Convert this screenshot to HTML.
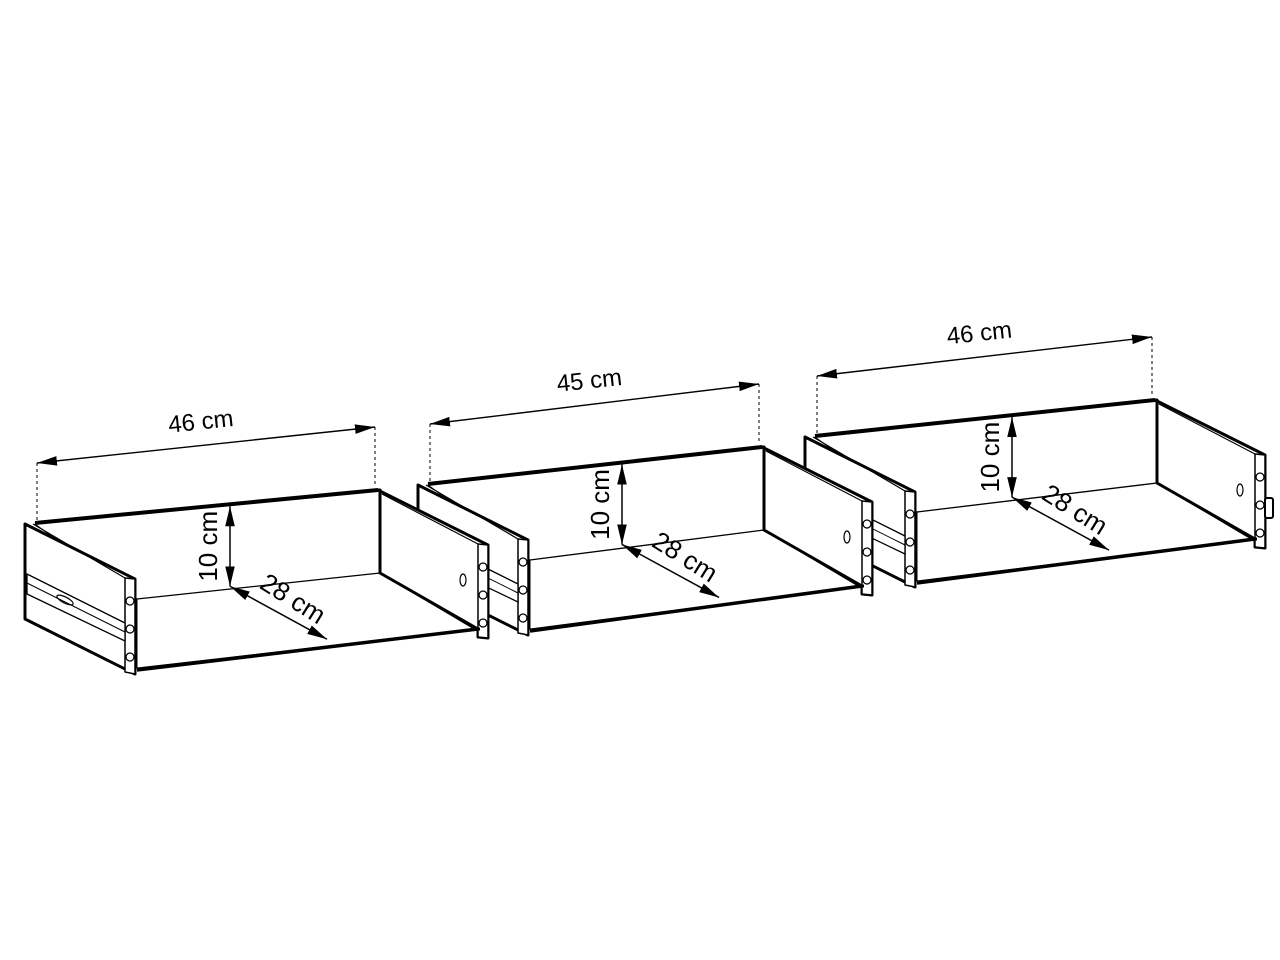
<!DOCTYPE html>
<html><head><meta charset="utf-8"><style>html,body{margin:0;padding:0;background:#fff}svg{display:block}</style></head>
<body>
<svg id="s" width="1280" height="960" viewBox="0 0 1280 960" xmlns="http://www.w3.org/2000/svg" font-family="Liberation Sans, sans-serif">
<defs>
<marker id="ab" viewBox="0 0 10 10" refX="10" refY="5" markerWidth="20" markerHeight="12" orient="auto-start-reverse" markerUnits="userSpaceOnUse" preserveAspectRatio="none">
<path d="M0,1 L10,5 L0,9 z" fill="#000"/></marker>
</defs>
<g id="g"></g>
</svg>
<script>
var g=document.getElementById('g');var out='';
function pt(a){return a[0]+','+a[1];}
function add(a,b){return [a[0]+b[0],a[1]+b[1]];}
function poly(ps,sw,fill){out+='<polygon points="'+ps.map(pt).join(' ')+'" fill="'+(fill||'#fff')+'" stroke="#000" stroke-width="'+sw+'" stroke-linejoin="round"/>';}
function line(a,b,sw,extra){out+='<line x1="'+a[0]+'" y1="'+a[1]+'" x2="'+b[0]+'" y2="'+b[1]+'" stroke="#000" stroke-width="'+sw+'" '+(extra||'')+'/>';}
function circ(c){out+='<circle cx="'+c[0]+'" cy="'+c[1]+'" r="4" fill="#fff" stroke="#000" stroke-width="1.3"/>';}
function text(x,y,s,rot,fs){out+='<text x="'+x+'" y="'+y+'" font-size="'+(fs||24)+'" text-anchor="middle" dominant-baseline="middle" transform="rotate('+rot+' '+x+' '+y+')">'+s+'</text>';}
var d=[110,55],h=95;
function side(P){
 var B=add(P,d);
 poly([P,B,add(B,[0,h]),add(P,[0,h])],3);
 line(add(P,[8,0]),add(B,[-10,-1]),1.2);
 poly([add(B,[-10,-1]),B,add(B,[0,h]),add(B,[-10,h-2])],1.5);
 [22,50,78].forEach(function(t){circ(add(B,[-5,t]));});
 poly([add(P,[2,50]),add(B,[-10,44]),add(B,[-10,62]),add(P,[2,70])],1.3);
 line(add(P,[2,59]),add(B,[-10,53]),1);
 out+='<ellipse cx="'+(P[0]+40)+'" cy="'+(P[1]+76)+'" rx="9" ry="3" fill="none" stroke="#000" stroke-width="1.2" transform="rotate(27 '+(P[0]+40)+' '+(P[1]+76)+')"/>';
}
function drawer(P,w,dimLabel,arrowX){
 var Q=add(P,w),B=add(P,d),QB=add(Q,d);
 var fl=add(B,[2,20]), fr=add(Q,[2,83]);
 poly([add(P,[10,0]),Q,add(Q,[2,0]),fr,add(QB,[-10,84]),add(B,[2,89]),fl],1);
 line(add(P,[10,-1]),Q,4);
 line(fl,fr,1.3);
 line(add(Q,[2,0]),fr,1.3);
 line(add(B,[2,91]),add(QB,[-10,84]),3.5);
 // right panel
 poly([Q,QB,add(QB,[0,h-2]),add(QB,[-10,h-3]),add(QB,[-10,84]),fr,add(Q,[2,0])],3);
 line(fr,add(QB,[-12,85]),1.3);
 line(add(Q,[4,4]),add(QB,[-10,-1]),1.2);
 poly([add(QB,[-10,-1]),QB,add(QB,[0,h-2]),add(QB,[-10,h-3])],1.5);
 [22,50,78].forEach(function(t){circ(add(QB,[-5,t]));});
 out+='<ellipse cx="'+(QB[0]-25)+'" cy="'+(QB[1]+35)+'" rx="3" ry="6" fill="none" stroke="#000" stroke-width="1.2"/>';
 line(add(QB,[-16,84]),add(QB,[-8,84]),3);
 var ax=P[0]+arrowX;
 var top=[ax,P[1]+w[1]*(arrowX/w[0])+2], bot=[ax,top[1]+80];
 line(bot,top,1.5,'marker-start="url(#ab)" marker-end="url(#ab)"');
 text(ax-20,top[1]+40,'10 cm',-90,26);
 var e=add(bot,[97,53]);
 line(bot,e,1.5,'marker-start="url(#ab)" marker-end="url(#ab)"');
 text(bot[0]+62,bot[1]+14,'28 cm',32,26);
 side(P);
 var a=add(P,[12,-61]), b=add(Q,[-3,-63]);
 line(a,b,1.4,'marker-start="url(#ab)" marker-end="url(#ab)"');
 line(a,add(P,[12,0]),1,'stroke-dasharray="3,3"');
 line(b,add(Q,[-3,-3]),1,'stroke-dasharray="3,3"');
 var m=[(a[0]+b[0])/2,(a[1]+b[1])/2];
 text(m[0]-5,m[1]-22,dimLabel,-6);
}
drawer([805,437],[350,-37],'46 cm',207);
out+='<rect x="1265" y="498" width="8" height="20" rx="2" fill="#fff" stroke="#000" stroke-width="2"/>';
drawer([418,485],[344,-38],'45 cm',204);
drawer([25,524],[353,-34],'46 cm',205);
g.innerHTML=out;
</script>
</body></html>
